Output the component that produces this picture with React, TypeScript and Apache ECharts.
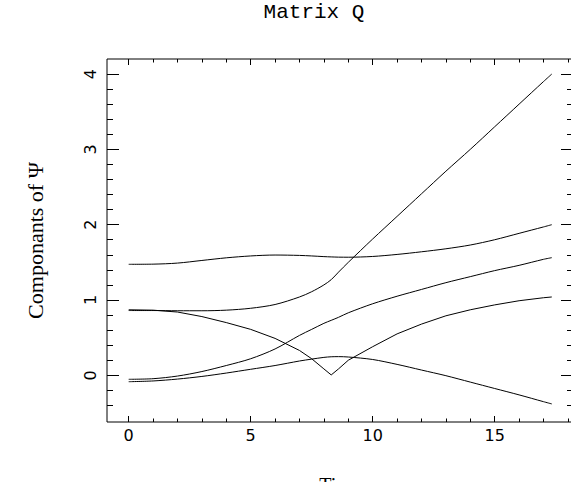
import React, { useEffect, useRef } from "react";
import * as echarts from "echarts";

const timeValues = [0, 1, 2, 3, 4, 5, 6, 7, 7.5, 8, 8.3, 8.6, 9, 10, 11, 12, 13, 14, 15, 16, 17, 17.34];
const compA = [1.474, 1.476, 1.49, 1.525, 1.56, 1.585, 1.597, 1.592, 1.585, 1.576, 1.572, 1.569, 1.568, 1.578, 1.605, 1.64, 1.68, 1.73, 1.8, 1.885, 1.97, 2.0];
const compB = [0.86, 0.86, 0.857, 0.857, 0.865, 0.89, 0.94, 1.04, 1.11, 1.2, 1.27, 1.37, 1.5, 1.81, 2.11, 2.41, 2.71, 3.0, 3.3, 3.6, 3.9, 4.0];
const compC = [0.87, 0.865, 0.84, 0.78, 0.7, 0.61, 0.49, 0.33, 0.22, 0.085, 0.005, 0.085, 0.2, 0.38, 0.55, 0.68, 0.79, 0.87, 0.935, 0.99, 1.03, 1.04];
const compD = [-0.053, -0.045, -0.01, 0.05, 0.13, 0.22, 0.35, 0.53, 0.61, 0.69, 0.73, 0.77, 0.83, 0.95, 1.05, 1.14, 1.23, 1.31, 1.39, 1.46, 1.54, 1.562];
const compE = [-0.085, -0.075, -0.05, -0.015, 0.03, 0.08, 0.13, 0.19, 0.215, 0.238, 0.246, 0.248, 0.243, 0.21, 0.145, 0.07, -0.005, -0.09, -0.175, -0.26, -0.35, -0.38];

const xMajorTicks = [0, 5, 10, 15];
const xMinorTicks = [1, 2, 3, 4, 6, 7, 8, 9, 11, 12, 13, 14, 16, 17, 18];
const yMajorTicks = [0, 1, 2, 3, 4];
const yMinorTicks = [-0.4, -0.2, 0.2, 0.4, 0.6, 0.8, 1.2, 1.4, 1.6, 1.8, 2.2, 2.4, 2.6, 2.8, 3.2, 3.4, 3.6, 3.8];

const titleText = "Matrix Q";
const xName = "Time";
const yName = "Componants of Ψ";

const X_MIN = -0.889;
const X_MAX = 18.21;
const Y_MIN = -0.62;
const Y_MAX = 4.2;

export default function App() {
  const ref = useRef<HTMLDivElement>(null);
  useEffect(() => {
    if (!ref.current) return;
    const chart = echarts.init(ref.current, null, { renderer: "svg" });
    const labelFont = { fontFamily: "DejaVu Sans", fontSize: 16, color: "#000" };
    const tickStyle = { color: "#000", width: 1 };
    const mkX = (pos: "top" | "bottom", ticks: number[], len: number, labels: boolean) => ({
      type: "value",
      position: pos,
      min: X_MIN,
      max: X_MAX,
      axisLine: { show: false, onZero: false },
      splitLine: { show: false },
      axisTick: { show: true, inside: true, length: len, customValues: ticks, lineStyle: tickStyle },
      axisLabel: labels
        ? { show: true, customValues: ticks, margin: 5, ...labelFont }
        : { show: false },
    });
    const mkY = (pos: "left" | "right", ticks: number[], len: number, labels: boolean) => ({
      type: "value",
      position: pos,
      min: Y_MIN,
      max: Y_MAX,
      axisLine: { show: false, onZero: false },
      splitLine: { show: false },
      axisTick: { show: true, inside: true, length: len, customValues: ticks, lineStyle: tickStyle },
      axisLabel: labels
        ? { show: true, customValues: ticks, rotate: 90, margin: 9, ...labelFont }
        : { show: false },
    });
    const xAxes: any[] = [
      { ...mkX("bottom", xMajorTicks, 6, true), name: xName, nameLocation: "middle", nameGap: 53, nameTextStyle: { fontFamily: "Liberation Serif", fontSize: 20, color: "#000" } },
      mkX("bottom", xMinorTicks, 3.5, false),
      mkX("top", xMajorTicks, 6, false),
      mkX("top", xMinorTicks, 3.5, false),
    ];
    const yAxes: any[] = [
      { ...mkY("left", yMajorTicks, 12, true), name: yName, nameLocation: "middle", nameRotate: 90, nameGap: 61, nameTextStyle: { fontFamily: "Liberation Serif", fontSize: 22, color: "#000" } },
      mkY("left", yMinorTicks, 6, false),
      mkY("right", yMajorTicks, 12, false),
      mkY("right", yMinorTicks, 6, false),
    ];
    const mkSeries = (vals: number[], smooth: number | boolean) => ({
      type: "line",
      data: timeValues.map((t, i) => [t, vals[i]]),
      showSymbol: false,
      symbol: "none",
      smooth,
      lineStyle: { color: "#000", width: 1 },
      xAxisIndex: 0,
      yAxisIndex: 0,
    });
    chart.setOption({
      animation: false,
      backgroundColor: "#fff",
      grid: {
        left: 107,
        top: 59,
        width: 466,
        height: 363,
        show: true,
        borderColor: "#000",
        borderWidth: 1,
        backgroundColor: "transparent",
        containLabel: false,
        outerBoundsMode: "none",
      },
      xAxis: xAxes,
      yAxis: yAxes,
      graphic: [
        {
          type: "text",
          x: 314,
          y: 12,
          style: { text: titleText, fontFamily: "Liberation Mono", fontSize: 21, fill: "#000", align: "center", verticalAlign: "middle" },
        },
      ],
      series: [
        mkSeries(compA, 0.3),
        mkSeries(compB, 0.3),
        mkSeries(compC, false),
        mkSeries(compD, 0.3),
        mkSeries(compE, 0.3),
      ],
    });
    return () => chart.dispose();
  }, []);
  return <div ref={ref} style={{ position: "fixed", left: 0, top: 0, width: 571, height: 482 }} />;
}
